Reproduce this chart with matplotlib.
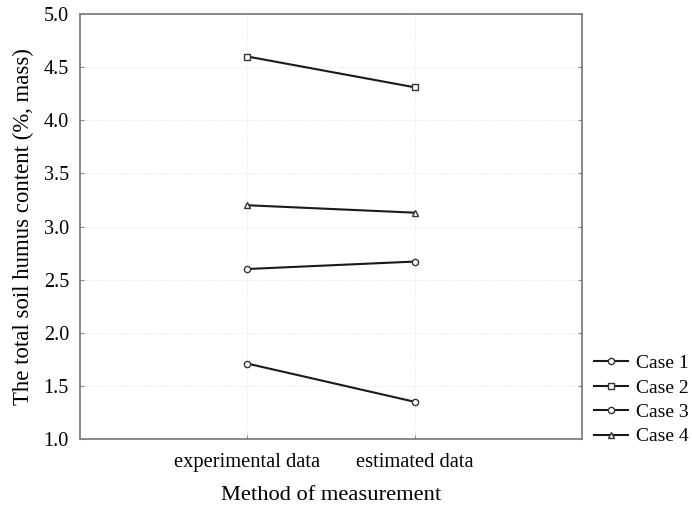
import matplotlib.pyplot as plt

plt.rcParams['font.family'] = ['Liberation Serif', 'DejaVu Serif']

methods = ["experimental data", "estimated data"]
case_names = ["Case 1", "Case 2", "Case 3", "Case 4"]
case1 = [1.71, 1.35]
case2 = [4.60, 4.31]
case3 = [2.60, 2.67]
case4 = [3.20, 3.13]
markers = ["o", "s", "o", "^"]

fig = plt.figure(figsize=(6.92, 5.07), dpi=100)
ax = fig.add_axes([80 / 692, 1 - 439 / 507, 502 / 692, 425 / 507])

xpos = [1, 2]
for name, vals, m in zip(case_names, [case1, case2, case3, case4], markers):
    ax.plot(xpos, vals, color="#1a1a1a", lw=1.5, marker=m, ms=4.5,
            mfc="white", mec="#333333", mew=1.0, label=name)

ax.set_xlim(0, 3)
ax.set_ylim(1.0, 5.0)
ax.set_xticks(xpos)
ax.set_xticklabels(methods, fontsize=14.8)
ax.set_yticks([1.0, 1.5, 2.0, 2.5, 3.0, 3.5, 4.0, 4.5, 5.0])
ax.set_yticklabels([f"{v:.1f}" for v in ax.get_yticks()], fontsize=14.5)
ax.tick_params(direction="in", length=3, width=0.8, color="#888888",
               right=True, pad=8)
ax.tick_params(axis="x", pad=10)
ax.grid(True, color="#dddddd", lw=0.6, ls=":")
for s in ax.spines.values():
    s.set_color("#808080")
    s.set_linewidth(1.3)

ax.set_xlabel("Method of measurement", fontsize=16.2, labelpad=10)
ax.set_ylabel("The total soil humus content (%, mass)", fontsize=16.4, labelpad=7)

fig.legend(loc="center left", bbox_to_anchor=(586 / 692, 1 - 400 / 507),
           frameon=False, fontsize=14, handlelength=1.75, handletextpad=0.4,
           labelspacing=0.35, borderaxespad=0)

fig.savefig("out.png", dpi=100)
